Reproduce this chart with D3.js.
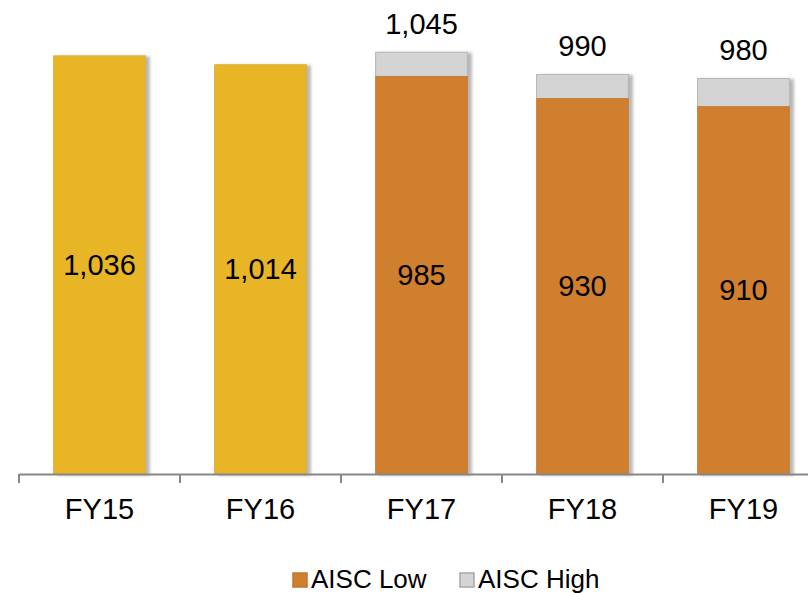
<!DOCTYPE html>
<html>
<head>
<meta charset="utf-8">
<script src="https://cdn.jsdelivr.net/npm/d3@7"></script>
<style>
  html, body { margin: 0; padding: 0; background: #fff; }
  svg { display: block; font-family: "Liberation Sans", Arial, sans-serif; }
</style>
</head>
<body>
<svg id="chart" width="808" height="593"></svg>
<script>
// AISC by fiscal year: actuals for FY15–FY16, low/high guidance range for FY17–FY19
const categories = ["FY15", "FY16", "FY17", "FY18", "FY19"];
const aiscLow    = [1036, 1014, 985, 930, 910];
const aiscHigh   = [null, null, 1045, 990, 980];
const isActual   = [true, true, false, false, false];
const legendLabels = ["AISC Low", "AISC High"];

const colors = { actual: "#E8B526", low: "#D07F2F", high: "#D4D4D4", highStroke: "#B5B5B5" };

const svg = d3.select("#chart");
const baseY = 474;
const fontSize = 29;

const x = d3.scaleBand().domain(categories).range([19, 824]).paddingInner(0.43).paddingOuter(0.215);
const y = d3.scaleLinear().domain([0, 1100]).range([baseY, 30]);

// soft drop shadow to the right of each bar
const defs = svg.append("defs");
const f = defs.append("filter").attr("id", "shadow").attr("x", "-10%").attr("y", "-10%").attr("width", "130%").attr("height", "120%");
f.append("feDropShadow").attr("dx", 4).attr("dy", 1).attr("stdDeviation", 1.8)
  .attr("flood-color", "#000").attr("flood-opacity", 0.28);

const rows = categories.map((c, i) => ({ c, low: aiscLow[i], high: aiscHigh[i], actual: isActual[i] }));

const g = svg.append("g");
const bars = g.selectAll("g.bar").data(rows).join("g").attr("class", "bar").attr("filter", "url(#shadow)");

// upper (high) segment
bars.filter(d => d.high != null).append("rect")
  .attr("x", d => x(d.c))
  .attr("width", x.bandwidth())
  .attr("y", d => y(d.high))
  .attr("height", d => y(d.low) - y(d.high))
  .attr("fill", colors.high)
  .attr("stroke", colors.highStroke)
  .attr("stroke-width", 1);

// low / actual segment
bars.append("rect")
  .attr("x", d => x(d.c))
  .attr("width", x.bandwidth())
  .attr("y", d => y(d.low))
  .attr("height", d => baseY - y(d.low))
  .attr("fill", d => d.actual ? colors.actual : colors.low)
  .attr("stroke", d => d.actual ? "#D9AC3A" : "#C47A33")
  .attr("stroke-width", 0.8);

// value inside each bar
g.selectAll("text.inner").data(rows).join("text")
  .attr("class", "inner")
  .attr("x", d => x(d.c) + x.bandwidth() / 2)
  .attr("y", d => (y(d.low) + baseY) / 2 + 10)
  .attr("text-anchor", "middle")
  .attr("font-size", fontSize)
  .attr("fill", "#000")
  .text(d => d3.format(",")(d.low));

// high value above the bar
g.selectAll("text.top").data(rows.filter(d => d.high != null)).join("text")
  .attr("class", "top")
  .attr("x", d => x(d.c) + x.bandwidth() / 2)
  .attr("y", d => y(d.high) - 18)
  .attr("text-anchor", "middle")
  .attr("font-size", fontSize)
  .attr("fill", "#000")
  .text(d => d3.format(",")(d.high));

// category axis
const axisG = svg.append("g").attr("transform", `translate(0,${baseY})`)
  .call(d3.axisBottom(x).tickSize(0).tickPadding(24));
axisG.select(".domain").attr("stroke", "#878787").attr("stroke-width", 2);
axisG.selectAll(".tick text").attr("font-size", fontSize).attr("fill", "#000")
  .attr("font-family", "Liberation Sans, Arial, sans-serif");

// tick marks at category boundaries
const bounds = categories.map(c => x(c) - x.step() * x.paddingInner() / 2).concat([x.range()[1]]);
bounds[0] = x.range()[0];
axisG.selectAll("line.sep").data(bounds).join("line")
  .attr("class", "sep")
  .attr("x1", d => d).attr("x2", d => d)
  .attr("y1", 0).attr("y2", 9)
  .attr("stroke", "#878787").attr("stroke-width", 2);

// legend
const legend = svg.append("g");
const legendItems = [
  { label: legendLabels[0], fill: colors.low, stroke: "#C07530", x: 293 },
  { label: legendLabels[1], fill: colors.high, stroke: "#A8A8A8", x: 460 }
];
const li = legend.selectAll("g").data(legendItems).join("g")
  .attr("transform", d => `translate(${d.x},573)`);
li.append("rect").attr("width", 14).attr("height", 14)
  .attr("fill", d => d.fill).attr("stroke", d => d.stroke).attr("stroke-width", 1.5);
li.append("text").attr("x", 18).attr("y", 15)
  .attr("font-size", 26).attr("fill", "#000")
  .text(d => d.label);
</script>
</body>
</html>
